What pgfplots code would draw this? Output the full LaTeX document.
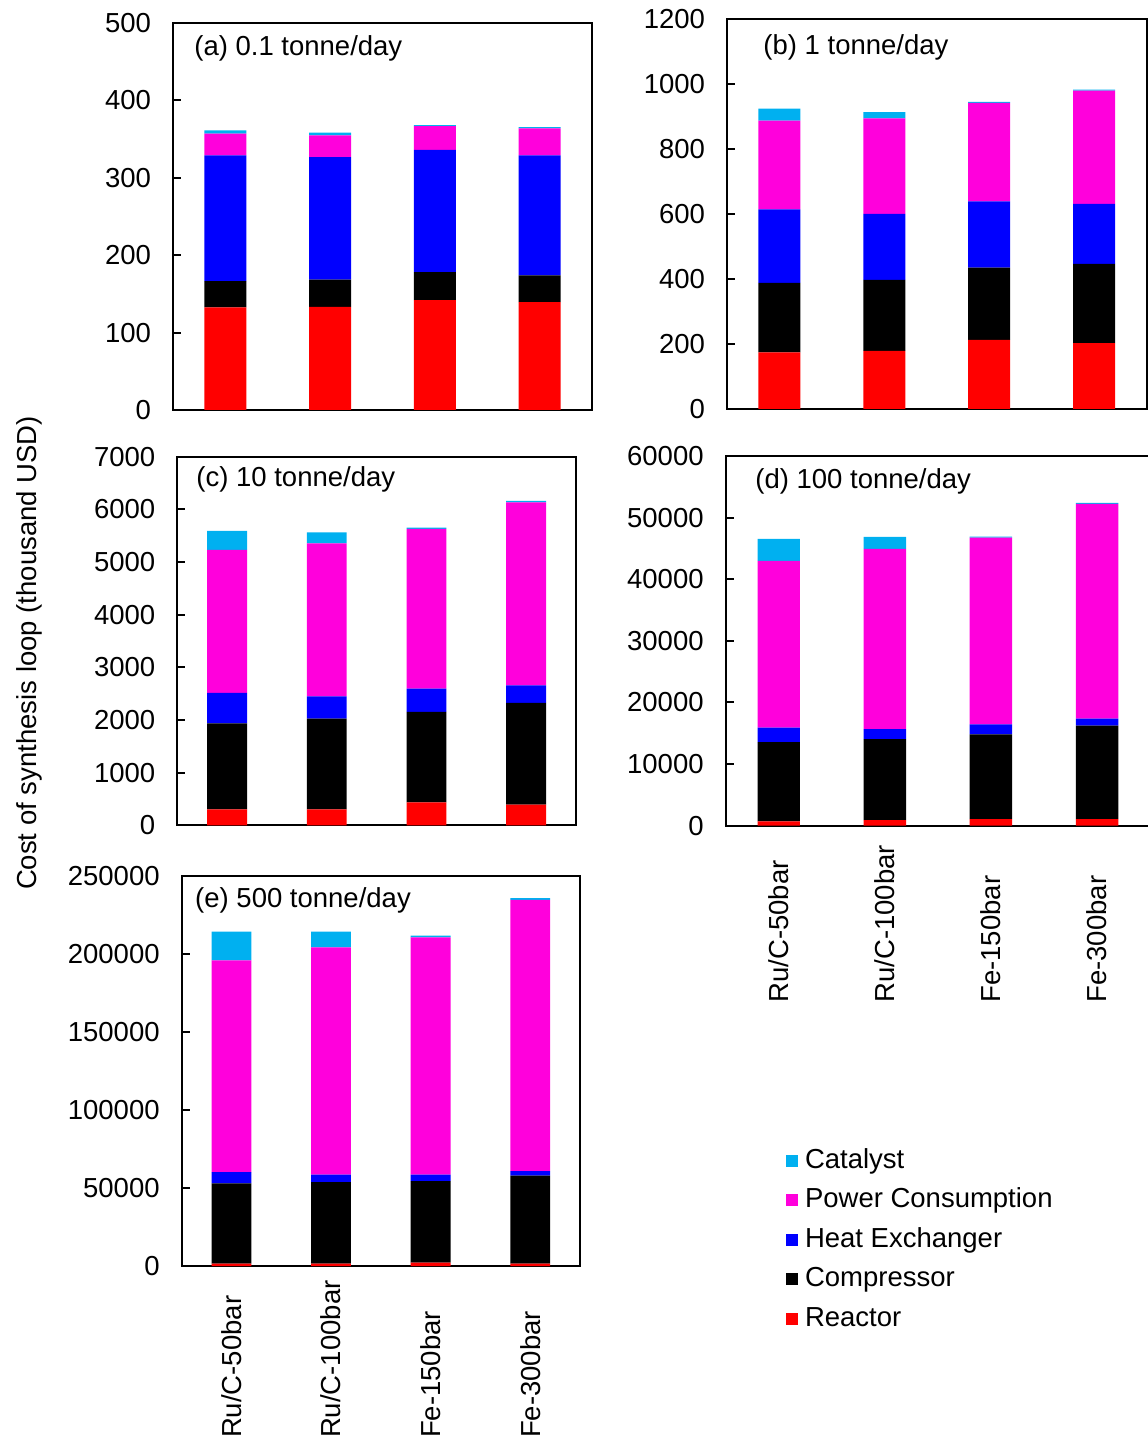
\documentclass[border=0pt]{standalone}
\usepackage{pgfplots}
\usepackage{pgfplotstable}
\pgfplotsset{compat=1.18}
\usepackage{fontspec}
\setmainfont{Liberation Sans}

\definecolor{reactor}{HTML}{FF0000}
\definecolor{compressor}{HTML}{000000}
\definecolor{hx}{HTML}{0000FF}
\definecolor{power}{HTML}{FF00DC}
\definecolor{catalyst}{HTML}{00B0F0}

\newcommand{\chartfont}{\fontsize{13.75}{16.5}\selectfont}

% cost breakdown of the synthesis loop (thousand USD), one table per plant scale
% x: 0 Ru/C-50bar, 1 Ru/C-100bar, 2 Fe-150bar, 3 Fe-300bar
\pgfplotstableread{
x reactor compressor hx power catalyst
0 132.5 34.0 162.5 28.0 4.3
1 133.3 35.0 158.3 28.3 3.5
2 142.0 36.0 158.2 30.6 1.3
3 139.4 34.4 155.2 35.0 1.3
}\tabA
\pgfplotstableread{
x reactor compressor hx power catalyst
0 174.5 213.5 226.0 273.0 37.0
1 178.6 218.7 203.3 293.7 19.5
2 212.5 222.8 203.3 302.9 3.1
3 202.3 244.3 184.8 348.1 3.0
}\tabB
\pgfplotstableread{
x reactor compressor hx power catalyst
0 304 1633 576 2715 361
1 304 1721 424 2905 209
2 437 1715 443 3032 25
3 392 1931 335 3475 25
}\tabC
\pgfplotstableread{
x reactor compressor hx power catalyst
0 703 12879 2327 27056 3572
1 920 13149 1624 29220 1948
2 1082 13745 1623 30303 163
3 1082 15152 1136 34849 162
}\tabD
\pgfplotstableread{
x reactor compressor hx power catalyst
0 1500 51400 7250 135800 18340
1 1500 52230 4900 145630 10020
2 2130 52240 4260 152030 1070
3 1500 56500 2770 173990 1070
}\tabE

\newcommand{\stackbars}[1]{%
  \addplot[fill=reactor]    table[x=x,y=reactor]{#1};
  \addplot[fill=compressor] table[x=x,y=compressor]{#1};
  \addplot[fill=hx]         table[x=x,y=hx]{#1};
  \addplot[fill=power]      table[x=x,y=power]{#1};
  \addplot[fill=catalyst]   table[x=x,y=catalyst]{#1};
}

\tikzset{paneltitle/.style={anchor=west, inner sep=0pt, font=\chartfont}}

\pgfplotsset{
  panel/.style={
    scale only axis,
    anchor=south west,
    ybar stacked,
    bar width=0.4,
    xmin=-0.5, xmax=3.5,
    ymin=0,
    every axis plot/.append style={draw=none},
    axis line style={line width=1pt, black},
    tick align=inside,
    ytick pos=left,
    major tick length=4pt,
    ytick style={line width=1pt, black},
    xtick=\empty,
    scaled y ticks=false,
    /pgf/number format/fixed,
    /pgf/number format/precision=0,
    /pgf/number format/1000 sep={},
    /pgf/number format/assume math mode=true,
    tick label style={font=\chartfont},
    yticklabel style={xshift=-7.5pt},
  },
  catlabels/.style={
    xtick={0,1,2,3},
    xticklabels={Ru/C-50bar, Ru/C-100bar, Fe-150bar, Fe-300bar},
    xtick style={draw=none},
    xticklabel style={yshift=-#1, rotate=90, anchor=west},
  },
}

\begin{document}
\begin{tikzpicture}
\path[use as bounding box] (0,0) rectangle (573.5pt,720.5pt);

% (a) 0.1 tonne/day
\begin{axis}[panel, at={(86.5pt,515.5pt)}, width=209.5pt, height=193.5pt,
  ymax=500, ytick distance=100]
  \stackbars{\tabA}
  \node[paneltitle] at (rel axis cs:0.05,0.935) {(a) 0.1 tonne/day};
\end{axis}

% (b) 1 tonne/day
\begin{axis}[panel, at={(363.5pt,516pt)}, width=209.75pt, height=195pt,
  ymax=1200, ytick distance=200]
  \stackbars{\tabB}
  \node[paneltitle] at (rel axis cs:0.086,0.926) {(b) 1 tonne/day};
\end{axis}

% (c) 10 tonne/day
\begin{axis}[panel, at={(88.65pt,307.85pt)}, width=199.35pt, height=184.35pt,
  ymax=7000, ytick distance=1000]
  \stackbars{\tabC}
  \node[paneltitle] at (rel axis cs:0.047,0.937) {(c) 10 tonne/day};
\end{axis}

% (d) 100 tonne/day
\begin{axis}[panel, at={(362.85pt,307.65pt)}, width=212.2pt, height=184.85pt,
  ymax=60000, ytick distance=10000, catlabels=92pt]
  \stackbars{\tabD}
  \node[paneltitle] at (rel axis cs:0.069,0.93) {(d) 100 tonne/day};
\end{axis}

% (e) 500 tonne/day, carries the legend
\begin{axis}[panel, at={(90.85pt,87.5pt)}, width=199.15pt, height=195pt,
  ymax=250000, ytick distance=50000, catlabels=89.5pt,
  reverse legend,
  legend image code/.code={\fill[#1,draw=none] (0pt,-2.65pt) rectangle (6pt,3.35pt);},
  legend style={at={(1.517,0.3026)}, anchor=north west, draw=none, fill=none,
    font=\chartfont, inner sep=0pt, row sep=6.75pt, column sep=3.35pt,
    nodes={inner sep=0pt, text height=10pt, text depth=3pt}},
  legend cell align=left]
  \stackbars{\tabE}
  \legend{Reactor, Compressor, Heat Exchanger, Power Consumption, Catalyst}
  \node[paneltitle] at (rel axis cs:0.033,0.938) {(e) 500 tonne/day};
\end{axis}

% shared y label
\node[rotate=90, anchor=base, font=\chartfont] at (18.35pt,394pt)
  {Cost of synthesis loop (thousand USD)};
\end{tikzpicture}
\end{document}
